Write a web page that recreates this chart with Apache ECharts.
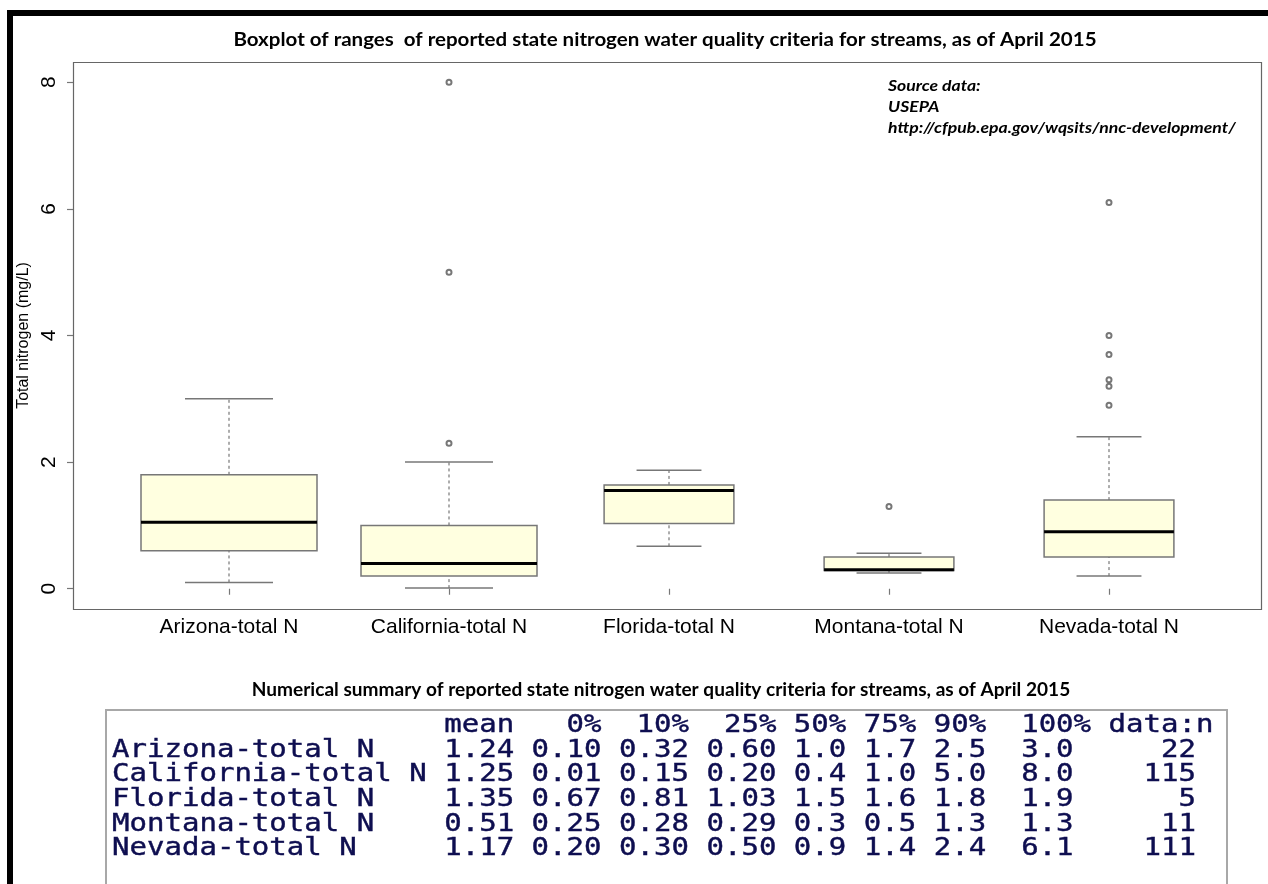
<!DOCTYPE html>
<html>
<head>
<meta charset="utf-8">
<script src="https://cdn.jsdelivr.net/npm/echarts@6.0.0/dist/echarts.min.js"></script>
<style>
  html, body { margin: 0; padding: 0; background: #fff; }
  #main { width: 1268px; height: 884px; }
</style>
</head>
<body>
<div id="main"></div>
<script>
// box statistics (whisker ends, hinges, median)
var states = ['Arizona-total N', 'California-total N', 'Florida-total N', 'Montana-total N', 'Nevada-total N'];
var whiskerLow = [0.10, 0.01, 0.67, 0.25, 0.20];
var lowerHinge = [0.60, 0.20, 1.03, 0.29, 0.50];
var medians = [1.05, 0.40, 1.55, 0.30, 0.90];
var upperHinge = [1.80, 1.00, 1.64, 0.50, 1.40];
var whiskerHigh = [3.00, 2.00, 1.87, 0.56, 2.40];
var outliers = [[], [2.3, 5.0, 8.0], [], [1.3], [2.9, 3.2, 3.3, 3.7, 4.0, 6.1]];
var yTicks = [0, 2, 4, 6, 8];

// numerical summary table
var summaryHeader = ['mean', '0%', '10%', '25%', '50%', '75%', '90%', '100%', 'data:n'];
var summaryRows = [
  ['1.24', '0.10', '0.32', '0.60', '1.0', '1.7', '2.5', '3.0', '22'],
  ['1.25', '0.01', '0.15', '0.20', '0.4', '1.0', '5.0', '8.0', '115'],
  ['1.35', '0.67', '0.81', '1.03', '1.5', '1.6', '1.8', '1.9', '5'],
  ['0.51', '0.25', '0.28', '0.29', '0.3', '0.5', '1.3', '1.3', '11'],
  ['1.17', '0.20', '0.30', '0.50', '0.9', '1.4', '2.4', '6.1', '111']
];

var chart = echarts.init(document.getElementById('main'));

var grey = '#777';
var boxWidthRatio = [0.8, 0.8, 0.59, 0.59, 0.59];

var boxData = states.map(function (s, i) {
  return [i, whiskerLow[i], lowerHinge[i], medians[i], upperHinge[i], whiskerHigh[i]];
});
var outlierData = [];
outliers.forEach(function (list, i) {
  list.forEach(function (v) { outlierData.push([i, v]); });
});

function renderBox(params, api) {
  var i = api.value(0);
  var pLow = api.coord([i, api.value(1)]);
  var pQ1 = api.coord([i, api.value(2)]);
  var pMed = api.coord([i, api.value(3)]);
  var pQ3 = api.coord([i, api.value(4)]);
  var pHigh = api.coord([i, api.value(5)]);
  var cx = pLow[0];
  var half = api.size([1, 0])[0] * boxWidthRatio[i] / 2;
  var cap = half / 2;
  var dashed = { stroke: grey, lineWidth: 1.2, lineDash: [3, 3] };
  var solid = { stroke: grey, lineWidth: 1.5 };
  return {
    type: 'group',
    children: [
      { type: 'line', shape: { x1: cx, y1: pQ3[1], x2: cx, y2: pHigh[1] }, style: dashed },
      { type: 'line', shape: { x1: cx, y1: pLow[1], x2: cx, y2: pQ1[1] }, style: dashed },
      { type: 'line', shape: { x1: cx - cap, y1: pHigh[1], x2: cx + cap, y2: pHigh[1] }, style: solid },
      { type: 'line', shape: { x1: cx - cap, y1: pLow[1], x2: cx + cap, y2: pLow[1] }, style: solid },
      { type: 'rect', shape: { x: cx - half, y: pQ3[1], width: half * 2, height: pQ1[1] - pQ3[1] },
        style: { fill: '#FFFFE0', stroke: grey, lineWidth: 1.5 } },
      { type: 'line', shape: { x1: cx - half, y1: pMed[1], x2: cx + half, y2: pMed[1] },
        style: { stroke: '#000', lineWidth: 3 } }
    ]
  };
}

// fixed width text lines like the R console print
var colW = [4, 4, 4, 4, 3, 3, 3, 4, 6];
var headW = [4, 4, 4, 4, 3, 3, 3, 5, 6];
var lines = [''.padEnd(18) + summaryHeader.map(function (h, k) { return ' ' + h.padStart(headW[k]); }).join('')];
summaryRows.forEach(function (r, i) {
  lines.push(states[i].padEnd(18) + r.map(function (v, k) { return ' ' + v.padStart(colW[k]); }).join(''));
});

var src = { fontFamily: 'Lato', fontWeight: 'bold', fontStyle: 'italic', fontSize: 16, fill: '#000', verticalAlign: 'middle' };

var graphics = [
  { type: 'rect', shape: { x: 7, y: 10, width: 1261, height: 6 }, style: { fill: '#000' } },
  { type: 'rect', shape: { x: 7, y: 10, width: 6, height: 874 }, style: { fill: '#000' } },
  { type: 'rect', shape: { x: 73.5, y: 62.5, width: 1188, height: 547 }, style: { fill: 'none', stroke: '#666', lineWidth: 1.2 } },
  { type: 'text', x: 665, y: 40, scaleX: 1.08, style: { text: 'Boxplot of ranges  of reported state nitrogen water quality criteria for streams, as of April 2015',
      fontFamily: 'Lato', fontWeight: 'bold', fontSize: 19, fill: '#000', align: 'center', verticalAlign: 'middle' } },
  { type: 'text', x: 888, y: 86, scaleX: 1.1, style: Object.assign({ text: 'Source data:' }, src) },
  { type: 'text', x: 888, y: 107, scaleX: 1.1, style: Object.assign({ text: 'USEPA' }, src) },
  { type: 'text', x: 888, y: 128, scaleX: 1.1, style: Object.assign({ text: 'http://cfpub.epa.gov/wqsits/nnc-development/' }, src) },
  { type: 'text', x: 661, y: 690, scaleX: 1.06, style: { text: 'Numerical summary of reported state nitrogen water quality criteria for streams, as of April 2015',
      fontFamily: 'Lato', fontWeight: 'bold', fontSize: 18, fill: '#000', align: 'center', verticalAlign: 'middle' } },
  { type: 'rect', shape: { x: 106, y: 710, width: 1121, height: 200 }, style: { fill: 'none', stroke: '#a8a8a8', lineWidth: 2 } }
];
lines.forEach(function (t, k) {
  graphics.push({ type: 'text', x: 112, y: 726 + k * 24.6, scaleX: 1.21,
    style: { text: t, fontFamily: 'DejaVu Sans Mono', fontSize: 24, fill: '#0e0e50', verticalAlign: 'middle',
      stroke: '#0e0e50', lineWidth: 0.4 } });
});

chart.setOption({
  backgroundColor: '#fff',
  animation: false,
  grid: { left: 119, right: 49, top: 62, bottom: 275 },
  xAxis: {
    type: 'category',
    data: states,
    boundaryGap: true,
    axisLine: { show: false },
    axisTick: { show: true, alignWithLabel: true, length: 6, lineStyle: { color: grey, width: 1.2 } },
    axisLabel: { fontFamily: 'Liberation Sans', fontSize: 21, color: '#000', margin: 8 },
    splitLine: { show: false }
  },
  yAxis: {
    type: 'value',
    min: -0.32,
    max: 8.32,
    offset: 46,
    name: 'Total nitrogen (mg/L)',
    nameLocation: 'middle',
    nameGap: 36,
    nameRotate: 90,
    nameTextStyle: { fontFamily: 'Liberation Sans', fontSize: 16, color: '#000' },
    axisLine: { show: false },
    axisTick: { show: true, length: 6, customValues: yTicks, lineStyle: { color: grey, width: 1.2 } },
    axisLabel: { customValues: yTicks, rotate: 90, fontFamily: 'Liberation Sans', fontSize: 21, color: '#000', margin: 13 },
    splitLine: { show: false }
  },
  graphic: graphics,
  series: [
    {
      type: 'custom',
      renderItem: renderBox,
      encode: { x: 0, y: [1, 2, 3, 4, 5] },
      data: boxData,
      z: 2
    },
    {
      type: 'scatter',
      data: outlierData,
      symbol: 'emptyCircle',
      symbolSize: 5,
      itemStyle: { color: '#555', borderWidth: 0.9 },
      z: 3
    }
  ]
});
</script>
</body>
</html>
